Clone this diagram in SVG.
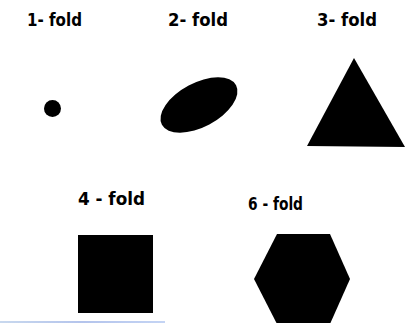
<svg xmlns="http://www.w3.org/2000/svg" width="410" height="323" viewBox="0 0 410 323">
<style>
text{font-family:"DejaVu Sans","Liberation Sans",sans-serif;font-weight:bold;font-size:17px;fill:#000}
.s{fill:#000}
</style>
<defs>
<linearGradient id="bl" x1="0" x2="1" y1="0" y2="0">
<stop offset="0" stop-color="#c8d8ee"/>
<stop offset="0.5" stop-color="#b4c4ec"/>
<stop offset="1" stop-color="#c4d4f4"/>
</linearGradient>
</defs>
<rect width="410" height="323" fill="#fff"/>
<g id="fold1">
<text x="27" y="26" textLength="55" lengthAdjust="spacingAndGlyphs">1- fold</text>
<circle class="s" cx="52.5" cy="108.5" r="8.5"/>
</g>
<g id="fold2">
<text x="168" y="26" textLength="60" lengthAdjust="spacingAndGlyphs">2- fold</text>
<ellipse class="s" cx="199" cy="105" rx="42" ry="22" transform="rotate(-28 199 105)"/>
</g>
<g id="fold3">
<text x="317" y="26" textLength="60" lengthAdjust="spacingAndGlyphs">3- fold</text>
<polygon class="s" points="354,58 405,147 307,146"/>
</g>
<g id="fold4">
<text x="78" y="205" textLength="67" lengthAdjust="spacingAndGlyphs">4 - fold</text>
<rect class="s" x="78" y="235" width="75" height="78"/>
</g>
<g id="fold6">
<text x="248" y="210" textLength="55" lengthAdjust="spacingAndGlyphs">6 - fold</text>
<polygon class="s" points="277,234 330,234 350,279 330,324 277,324 254,279"/>
</g>
<rect x="0" y="321" width="165" height="2" fill="url(#bl)"/>
</svg>
